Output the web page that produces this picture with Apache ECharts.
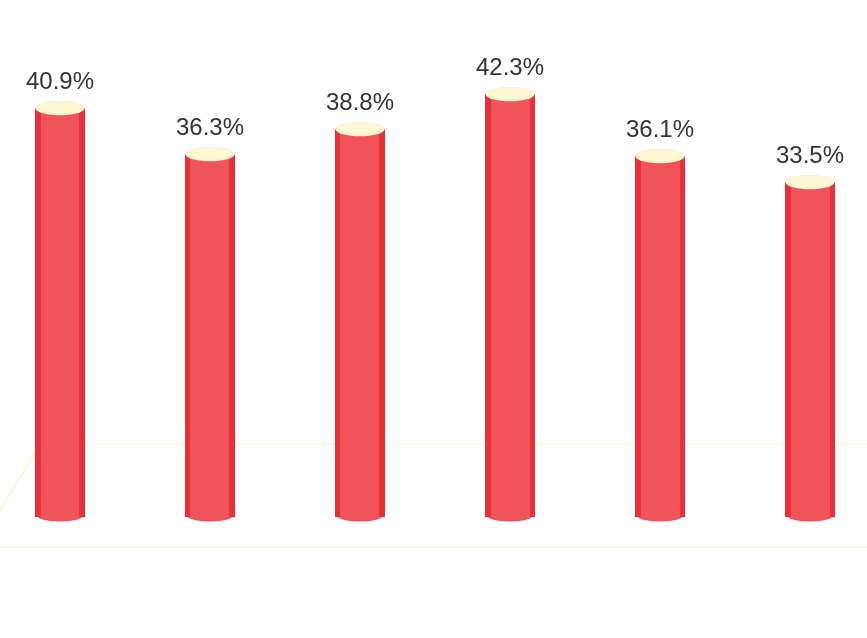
<!DOCTYPE html>
<html>
<head>
<meta charset="utf-8">
<script src="https://cdn.jsdelivr.net/npm/echarts@6/dist/echarts.min.js"></script>
<style>
html, body { margin: 0; padding: 0; background: #fff; }
#main { width: 867px; height: 638px; }
</style>
</head>
<body>
<div id="main"></div>
<script>
var categories = ['1', '2', '3', '4', '5', '6'];
var rates = [40.9, 36.3, 38.8, 42.3, 36.1, 33.5];

var dom = document.getElementById("main");
var myChart = echarts.init(dom);

var bodyColor = {
    type: 'linear', x: 0, y: 0, x2: 1, y2: 0,
    colorStops: [
        { offset: 0, color: '#e8303a' },
        { offset: 0.11, color: '#e8303a' },
        { offset: 0.11, color: '#f1535b' },
        { offset: 0.89, color: '#f1535b' },
        { offset: 0.89, color: '#e8303a' },
        { offset: 1, color: '#e8303a' }
    ]
};

var option = {
    animation: false,
    grid: {
        left: -15,
        top: 17,
        width: 900,
        bottom: 121,
        outerBoundsMode: 'none',
        containLabel: false
    },
    xAxis: {
        type: 'category',
        data: categories,
        show: false
    },
    yAxis: {
        type: 'value',
        min: 0,
        max: 50,
        show: false
    },
    graphic: [
        {
            type: 'polygon',
            z: -1,
            shape: {
                points: [[40, 444], [900, 444], [880, 547], [-22, 547]]
            },
            style: {
                fill: 'none',
                stroke: '#f9f7cf',
                lineWidth: 1.5
            }
        }
    ],
    series: [
        {
            // bottom ellipse
            type: 'pictorialBar',
            symbol: 'circle',
            symbolSize: [45, 11],
            symbolOffset: [0, '50%'],
            z: 1,
            itemStyle: {
                color: '#f1535b',
                borderColor: '#e8303a',
                borderWidth: 5
            },
            data: rates.map(function () { return 0.0001; })
        },
        {
            type: 'bar',
            barWidth: 50,
            z: 3,
            itemStyle: {
                color: bodyColor
            },
            data: rates
        },
        {
            // top ellipse
            type: 'pictorialBar',
            symbol: 'circle',
            symbolSize: [49, 14],
            symbolPosition: 'end',
            symbolOffset: [0, '-50%'],
            z: 4,
            itemStyle: {
                color: '#fef7d4',
                borderColor: '#e8303a',
                borderWidth: 1
            },
            label: {
                show: true,
                position: 'top',
                distance: 7,
                formatter: '{c}%',
                color: '#333',
                fontSize: 24,
                fontFamily: 'Liberation Sans, Arial, sans-serif'
            },
            data: rates
        }
    ]
};

myChart.setOption(option, true);
</script>
</body>
</html>
